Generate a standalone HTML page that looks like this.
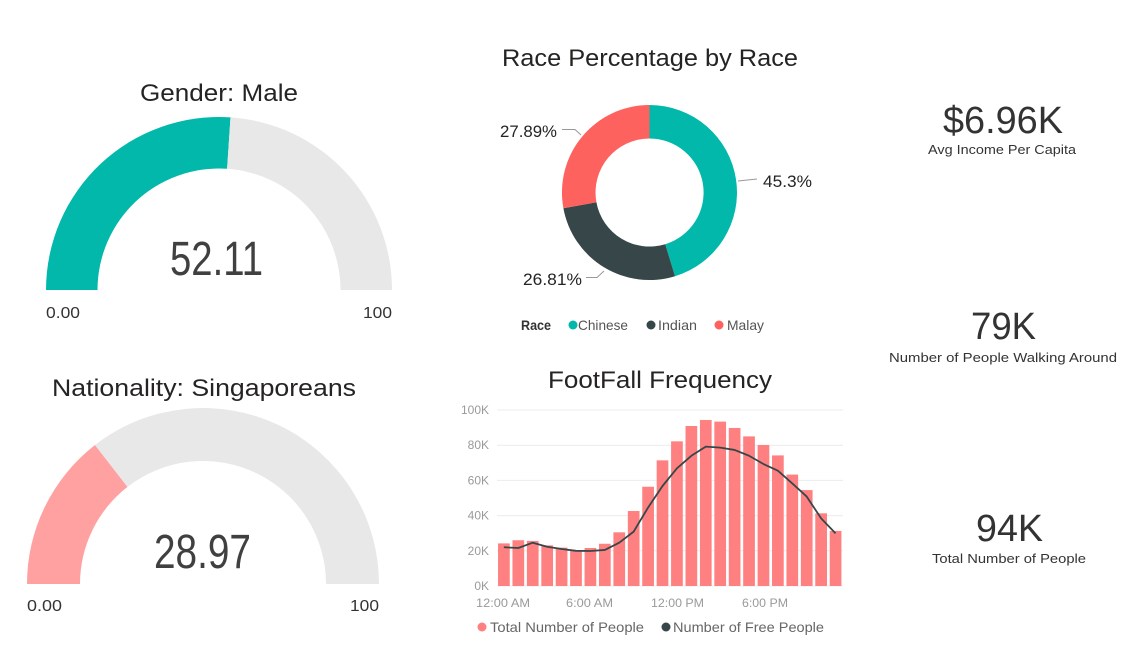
<!DOCTYPE html>
<html><head><meta charset="utf-8"><style>
html,body{margin:0;padding:0;background:#fff;}
svg{display:block;}
text{font-family:"Liberation Sans",sans-serif;}
</style></head><body>
<svg width="1143" height="655" viewBox="0 0 1143 655" xmlns="http://www.w3.org/2000/svg">
<rect width="1143" height="655" fill="#fff"/>

<!-- Gauge 1 -->
<text x="140" y="101" font-size="24" fill="#252423" textLength="158" lengthAdjust="spacingAndGlyphs">Gender: Male</text>
<path d="M 46 290 A 173 173 0 0 1 230.5 117.4 L 227.1 168.8 A 121.5 121.5 0 0 0 97.5 290 Z" fill="#01b8aa"/>
<path d="M 230.5 117.4 A 173 173 0 0 1 392 290 L 340.5 290 A 121.5 121.5 0 0 0 227.1 168.8 Z" fill="#e8e8e8"/>
<text x="170" y="275" font-size="48" fill="#404040" textLength="93" lengthAdjust="spacingAndGlyphs">52.11</text>
<text x="46" y="318" font-size="16" fill="#333" textLength="34" lengthAdjust="spacingAndGlyphs">0.00</text>
<text x="363" y="318" font-size="16" fill="#333" textLength="29" lengthAdjust="spacingAndGlyphs">100</text>

<!-- Gauge 2 -->
<text x="52" y="396" font-size="24" fill="#252423" textLength="304" lengthAdjust="spacingAndGlyphs">Nationality: Singaporeans</text>
<path d="M 27 584 A 176 176 0 0 1 95 445.05 L 127.5 486.9 A 123 123 0 0 0 80 584 Z" fill="#ffa1a1"/>
<path d="M 95 445.05 A 176 176 0 0 1 379 584 L 326 584 A 123 123 0 0 0 127.5 486.9 Z" fill="#e8e8e8"/>
<text x="154" y="568" font-size="48" fill="#404040" textLength="97" lengthAdjust="spacingAndGlyphs">28.97</text>
<text x="27" y="611" font-size="16" fill="#333" textLength="35" lengthAdjust="spacingAndGlyphs">0.00</text>
<text x="350" y="611" font-size="16" fill="#333" textLength="29" lengthAdjust="spacingAndGlyphs">100</text>

<!-- Donut -->
<text x="502" y="66" font-size="24" fill="#252423" textLength="296" lengthAdjust="spacingAndGlyphs">Race Percentage by Race</text>
<path d="M 649.5 105 A 87.5 87.5 0 0 1 675.0 276.2 L 665.2 244.2 A 54 54 0 0 0 649.5 138.5 Z" fill="#01b8aa"/>
<path d="M 675.0 276.2 A 87.5 87.5 0 0 1 563.4 208.3 L 596.4 202.2 A 54 54 0 0 0 665.2 244.2 Z" fill="#374649"/>
<path d="M 563.4 208.3 A 87.5 87.5 0 0 1 649.5 105 L 649.5 138.5 A 54 54 0 0 0 596.4 202.2 Z" fill="#fd625e"/>
<polyline points="562,129.5 575,129.5 581,135" fill="none" stroke="#999" stroke-width="1"/>
<polyline points="738,181 757,179" fill="none" stroke="#999" stroke-width="1"/>
<polyline points="586,277.5 597,277.5 604,271" fill="none" stroke="#999" stroke-width="1"/>
<text x="500" y="137" font-size="17" fill="#252423" textLength="57" lengthAdjust="spacingAndGlyphs">27.89%</text>
<text x="763" y="187" font-size="17" fill="#252423" textLength="49" lengthAdjust="spacingAndGlyphs">45.3%</text>
<text x="523" y="285" font-size="17" fill="#252423" textLength="59" lengthAdjust="spacingAndGlyphs">26.81%</text>
<text x="521" y="330" font-size="14" font-weight="bold" fill="#333" textLength="30" lengthAdjust="spacingAndGlyphs">Race</text>
<circle cx="573" cy="325" r="4.5" fill="#01b8aa"/>
<text x="578" y="330" font-size="14" fill="#555" textLength="50" lengthAdjust="spacingAndGlyphs">Chinese</text>
<circle cx="651" cy="325" r="4.5" fill="#374649"/>
<text x="658" y="330" font-size="14" fill="#555" textLength="39" lengthAdjust="spacingAndGlyphs">Indian</text>
<circle cx="719" cy="325" r="4.5" fill="#fd625e"/>
<text x="727" y="330" font-size="14" fill="#555" textLength="37" lengthAdjust="spacingAndGlyphs">Malay</text>

<!-- Bar chart -->
<text x="548" y="388" font-size="24" fill="#252423" textLength="224" lengthAdjust="spacingAndGlyphs">FootFall Frequency</text>
<g stroke="#ececec" stroke-width="1">
<line x1="497" y1="410" x2="843" y2="410"/>
<line x1="497" y1="445.2" x2="843" y2="445.2"/>
<line x1="497" y1="480.4" x2="843" y2="480.4"/>
<line x1="497" y1="515.6" x2="843" y2="515.6"/>
<line x1="497" y1="550.8" x2="843" y2="550.8"/>
<line x1="497" y1="586" x2="843" y2="586"/>
</g>
<g font-size="12" fill="#9a9a9a" text-anchor="end">
<text x="489" y="414">100K</text>
<text x="489" y="449">80K</text>
<text x="489" y="484.5">60K</text>
<text x="489" y="519.5">40K</text>
<text x="489" y="555">20K</text>
<text x="489" y="590">0K</text>
</g>
<g fill="#fe8080">
<rect x="498.05" y="543.4" width="11.7" height="42.6"/>
<rect x="512.47" y="540.24" width="11.7" height="45.76"/>
<rect x="526.89" y="540.94" width="11.7" height="45.06"/>
<rect x="541.31" y="545.34" width="11.7" height="40.66"/>
<rect x="555.73" y="547.63" width="11.7" height="38.37"/>
<rect x="570.15" y="550.27" width="11.7" height="35.73"/>
<rect x="584.57" y="547.98" width="11.7" height="38.02"/>
<rect x="598.99" y="543.76" width="11.7" height="42.24"/>
<rect x="613.41" y="532.32" width="11.7" height="53.68"/>
<rect x="627.83" y="511.02" width="11.7" height="74.98"/>
<rect x="642.25" y="486.74" width="11.7" height="99.26"/>
<rect x="656.67" y="460.34" width="11.7" height="125.66"/>
<rect x="671.09" y="441.33" width="11.7" height="144.67"/>
<rect x="685.51" y="426.02" width="11.7" height="159.98"/>
<rect x="699.93" y="420.03" width="11.7" height="165.97"/>
<rect x="714.35" y="421.62" width="11.7" height="164.38"/>
<rect x="728.77" y="427.95" width="11.7" height="158.05"/>
<rect x="743.19" y="436.4" width="11.7" height="149.6"/>
<rect x="757.61" y="445.02" width="11.7" height="140.98"/>
<rect x="772.03" y="455.41" width="11.7" height="130.59"/>
<rect x="786.45" y="474.59" width="11.7" height="111.41"/>
<rect x="800.87" y="490.08" width="11.7" height="95.92"/>
<rect x="815.29" y="513.31" width="11.7" height="72.69"/>
<rect x="829.71" y="530.91" width="11.7" height="55.09"/>
</g>
<polyline fill="none" stroke="#374649" stroke-width="1.8" stroke-linejoin="round" points="503.9,547.28 518.32,547.98 532.74,542.7 547.16,546.75 561.58,549.04 576,550.8 590.42,550.98 604.84,549.92 619.26,542.7 633.68,531.62 648.1,507.5 662.52,486 676.94,468.26 691.36,455.76 705.78,446.61 720.2,447.66 734.62,449.95 749.04,455.76 763.46,464.03 777.88,470.72 792.3,483.39 806.72,496.59 821.14,518.42 835.56,533.38"/>
<g font-size="12" fill="#9a9a9a">
<text x="476" y="607" textLength="54" lengthAdjust="spacingAndGlyphs">12:00 AM</text>
<text x="566" y="607" textLength="47" lengthAdjust="spacingAndGlyphs">6:00 AM</text>
<text x="651" y="607" textLength="53" lengthAdjust="spacingAndGlyphs">12:00 PM</text>
<text x="742" y="607" textLength="46" lengthAdjust="spacingAndGlyphs">6:00 PM</text>
</g>
<circle cx="482" cy="627" r="4.5" fill="#fe8080"/>
<text x="490" y="632" font-size="14" fill="#666" textLength="154" lengthAdjust="spacingAndGlyphs">Total Number of People</text>
<circle cx="666" cy="627" r="4.5" fill="#374649"/>
<text x="673" y="632" font-size="14" fill="#666" textLength="151" lengthAdjust="spacingAndGlyphs">Number of Free People</text>

<!-- KPIs -->
<text x="943" y="133" font-size="38" fill="#333" textLength="120" lengthAdjust="spacingAndGlyphs">$6.96K</text>
<text x="928" y="154" font-size="13" fill="#333" textLength="148" lengthAdjust="spacingAndGlyphs">Avg Income Per Capita</text>
<text x="971" y="339" font-size="38" fill="#333" textLength="65" lengthAdjust="spacingAndGlyphs">79K</text>
<text x="889" y="362" font-size="13" fill="#333" textLength="228" lengthAdjust="spacingAndGlyphs">Number of People Walking Around</text>
<text x="976" y="541" font-size="38" fill="#333" textLength="67" lengthAdjust="spacingAndGlyphs">94K</text>
<text x="932" y="563" font-size="13" fill="#333" textLength="154" lengthAdjust="spacingAndGlyphs">Total Number of People</text>
</svg>
</body></html>
